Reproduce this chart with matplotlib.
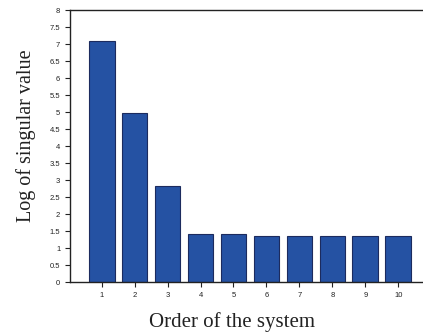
import matplotlib
matplotlib.use("Agg")
import matplotlib.pyplot as plt
from matplotlib.ticker import FuncFormatter

# Data
orders = [1, 2, 3, 4, 5, 6, 7, 8, 9, 10]
log_sv = [7.1, 4.97, 2.84, 1.42, 1.42, 1.37, 1.37, 1.37, 1.37, 1.37]

fig = plt.figure(figsize=(4.23, 3.35), dpi=100)
ax = fig.add_axes([0.1655, 0.157, 0.8345, 0.813])

ax.bar(orders, log_sv, width=0.78, color="#2552a3", edgecolor="#1c2b5e", linewidth=0.8)

ax.set_xlim(0.04, 10.75)
ax.set_ylim(0, 8)
ax.set_xticks(orders)
ax.set_yticks([i * 0.5 for i in range(17)])
ax.yaxis.set_major_formatter(FuncFormatter(lambda v, p: "%g" % v))

ax.spines["right"].set_visible(False)
for s in ["left", "bottom", "top"]:
    ax.spines[s].set_linewidth(1.0)
    ax.spines[s].set_color("#222222")

ax.tick_params(axis="both", labelsize=5.5, length=3.5, width=0.8, colors="#222222")
for lab in ax.get_xticklabels() + ax.get_yticklabels():
    lab.set_fontfamily("Liberation Sans")

ax.set_xlabel("Order of the system", fontsize=15, family="Liberation Serif", color="#222222")
ax.set_ylabel("Log of singular value", fontsize=14.5, family="Liberation Serif", color="#222222")
ax.xaxis.set_label_coords(0.458, -0.108)
ax.yaxis.set_label_coords(-0.095, 0.54)

fig.savefig("out.png", dpi=100)
